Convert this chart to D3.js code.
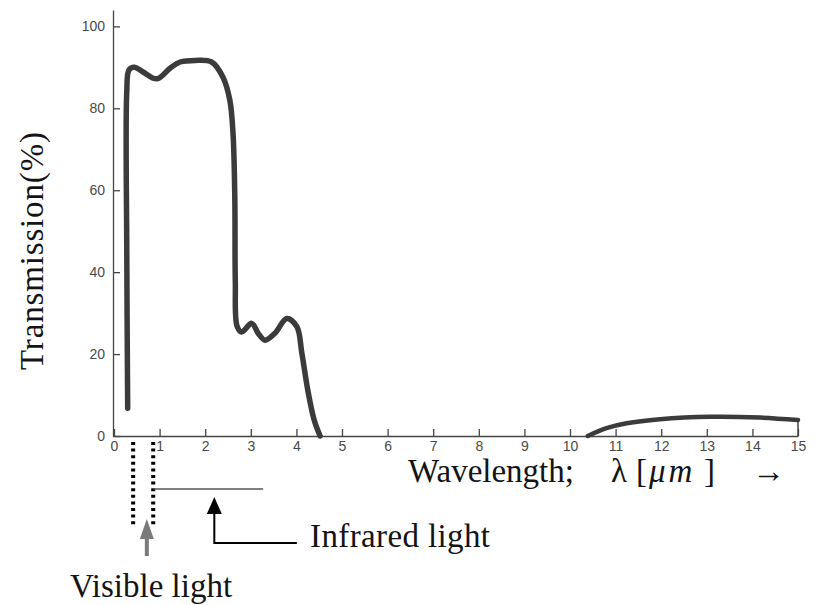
<!DOCTYPE html>
<html lang="en">
<head>
    <meta charset="UTF-8">
    <title>Transmission spectrum</title>
    <script src="https://cdn.jsdelivr.net/npm/d3@7"></script>
    <style>
        body{
            margin: 0;
            background: #fff;
        }
        .curve{
            fill: none;
            stroke: #3b3b3b;
            stroke-width: 5.5px;
            stroke-linejoin: round;
            stroke-linecap: round;
        }
        .axis path, .axis line{
            stroke: #444;
            stroke-width: 1.3px;
        }
        .axis text{
            font-family: "Liberation Sans", Arial, sans-serif;
            font-size: 14px;
            fill: #4a4a4a;
        }
        .big{
            font-family: "Liberation Serif", "Times New Roman", serif;
            font-size: 33px;
            fill: #141414;
        }
    </style>
</head>
<body>
<script>
    // transmission curve (wavelength in um, transmission in %)
    const visibleBand = [
        [0.30, 6.8], [0.28, 45.4], [0.28, 84.0], [0.33, 89.4], [0.45, 90.0],
        [0.62, 89.0], [0.94, 87.2], [1.23, 89.8], [1.45, 91.3], [1.78, 91.7],
        [2.14, 91.3], [2.39, 87.6], [2.54, 82.0], [2.61, 73.9], [2.65, 57.6],
        [2.66, 38.0], [2.70, 26.8], [2.80, 25.4], [3.02, 27.5], [3.16, 25.1],
        [3.31, 23.4], [3.53, 25.1], [3.79, 28.7], [4.01, 26.7], [4.12, 20.2],
        [4.25, 11.2], [4.39, 3.9], [4.52, 0]
    ];
    const farInfrared = [
        [10.39, 0], [10.80, 1.9], [11.24, 3.1], [11.97, 4.1],
        [13.07, 4.7], [14.17, 4.5], [15.0, 3.9]
    ];
    const xTicks = d3.range(0, 16);
    const yTicks = [0, 20, 40, 60, 80, 100];

    // annotation positions, in um
    const visibleEdges = [0.42, 0.86];
    const visibleArrow = 0.72;
    const infraredLine = [0.86, 3.27];
    const infraredArrow = 2.2;
    const infraredElbow = 4.01;

    const width = 818, height = 605;
    const svg = d3.select("body").append("svg")
        .attr("width", width)
        .attr("height", height);

    const xScale = d3.scaleLinear().domain([0, 15]).range([114, 798]);
    const yScale = d3.scaleLinear().domain([0, 104]).range([436, 10]);

    // axes, ticks point inward like the original
    const xAxis = d3.axisBottom(xScale).tickValues(xTicks)
        .tickSizeInner(-7).tickSizeOuter(0).tickPadding(5);
    const yAxis = d3.axisLeft(yScale).tickValues(yTicks)
        .tickSizeInner(-7).tickSizeOuter(0).tickPadding(8);

    svg.append("g").attr("class", "axis")
        .attr("transform", `translate(0,${yScale(0)})`)
        .call(xAxis);
    svg.append("g").attr("class", "axis")
        .attr("transform", `translate(${xScale(0) - 1},0)`)
        .call(yAxis);

    // closing line at 15 um
    const last = farInfrared[farInfrared.length - 1];
    svg.append("line")
        .attr("x1", xScale(last[0])).attr("x2", xScale(last[0]))
        .attr("y1", yScale(0)).attr("y2", yScale(last[1]))
        .attr("stroke", "#444").attr("stroke-width", 1.5);

    // curves
    const line = d3.line()
        .x(d => xScale(d[0]))
        .y(d => yScale(d[1]))
        .curve(d3.curveCatmullRom.alpha(0.5));

    svg.append("path").datum(visibleBand).attr("class", "curve").attr("d", line);
    svg.append("path").datum(farInfrared).attr("class", "curve")
        .style("stroke-width", "4.5px").attr("d", line);

    // axis titles
    svg.append("text").attr("class", "big")
        .attr("transform", "translate(43,370) rotate(-90)")
        .attr("textLength", 238)
        .text("Transmission(%)");

    const wl = svg.append("text").attr("class", "big").attr("y", 482);
    wl.append("tspan").attr("x", 408).text("Wavelength;");
    wl.append("tspan").attr("x", 611).text("λ");
    wl.append("tspan").attr("x", 636).text("[");
    wl.append("tspan").attr("x", 649)
        .style("font-style", "italic").style("letter-spacing", "3px").text("μm");
    wl.append("tspan").attr("x", 704).text("]");
    wl.append("tspan").attr("x", 752).text("→");

    // visible light band: dotted edges and grey arrow
    svg.selectAll(".edge").data(visibleEdges).enter()
        .append("line")
        .attr("class", "edge")
        .attr("x1", d => xScale(d)).attr("x2", d => xScale(d))
        .attr("y1", 442).attr("y2", 526)
        .attr("stroke", "#000").attr("stroke-width", 4)
        .attr("stroke-dasharray", "3,3.6");

    const va = xScale(visibleArrow);
    svg.append("line")
        .attr("x1", va).attr("x2", va).attr("y1", 556).attr("y2", 536)
        .attr("stroke", "#7a7a7a").attr("stroke-width", 4);
    svg.append("path")
        .attr("d", `M${va},519 L${va - 7},539 L${va + 7},539 Z`)
        .attr("fill", "#7a7a7a");

    svg.append("text").attr("class", "big")
        .attr("x", 70).attr("y", 597)
        .text("Visible light");

    // infrared band
    svg.append("line")
        .attr("x1", xScale(infraredLine[0])).attr("x2", xScale(infraredLine[1]))
        .attr("y1", 489).attr("y2", 489)
        .attr("stroke", "#555").attr("stroke-width", 1.5);

    const ia = xScale(infraredArrow);
    svg.append("path")
        .attr("d", `M${ia},510 L${ia},543 L${xScale(infraredElbow)},543`)
        .attr("fill", "none").attr("stroke", "#000").attr("stroke-width", 2);
    svg.append("path")
        .attr("d", `M${ia},497 L${ia - 7.5},514 L${ia + 7.5},514 Z`)
        .attr("fill", "#000");

    svg.append("text").attr("class", "big")
        .attr("x", 310).attr("y", 547)
        .attr("textLength", 180)
        .text("Infrared light");
</script>
</body>
</html>
